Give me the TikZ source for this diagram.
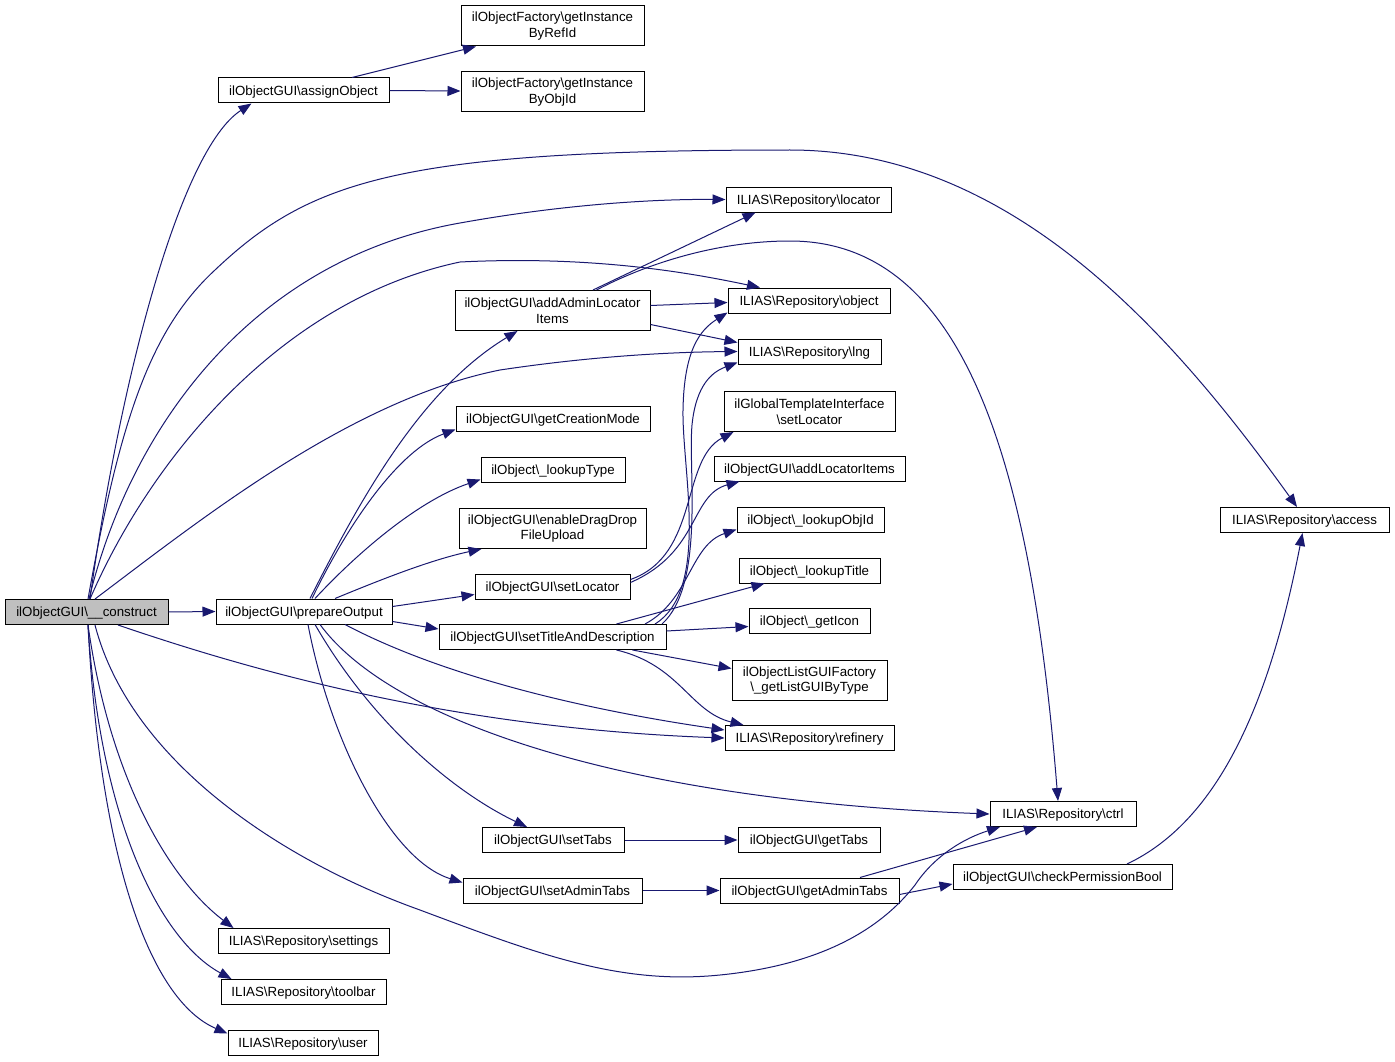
\documentclass[tikz,border=0pt]{standalone}
\usepackage{fontspec}
\setmainfont{Liberation Sans}
\usetikzlibrary{arrows.meta}
\definecolor{mblue}{HTML}{191970}
\definecolor{cgray}{HTML}{BFBFBF}
\tikzset{
  boxbase/.style={draw=black, line width=1pt, fill=white, inner sep=0pt,
    font=\fontsize{13.3}{15.5}\selectfont, align=center},
  box/.style={boxbase, minimum height=25pt, text height=9.4pt, text depth=0pt},
  box2/.style={boxbase, minimum height=40pt},
  edge/.style={draw=mblue, line width=1pt, -{Triangle[length=13pt,width=10pt]}}
}
\begin{document}
\begin{tikzpicture}[x=1pt,y=-1pt]
\useasboundingbox[fill=white] (0,0) rectangle (1395,1062);
% nodes
\node[box, fill=cgray, minimum width=163pt] (construct) at (86.5,612) {ilObjectGUI\textbackslash\_\_construct};
\node[box, minimum width=171pt] (assign) at (303.5,90.5) {ilObjectGUI\textbackslash assignObject};
\node[box2, minimum width=183pt] (refid) at (552.5,26) {ilObjectFactory\textbackslash getInstance\\ByRefId};
\node[box2, minimum width=183pt] (objid) at (552.5,92) {ilObjectFactory\textbackslash getInstance\\ByObjId};
\node[box, minimum width=169pt] (access) at (1304.5,520) {ILIAS\textbackslash Repository\textbackslash access};
\node[box, minimum width=165pt] (locator) at (808.5,199.5) {ILIAS\textbackslash Repository\textbackslash locator};
\node[box2, minimum width=195pt] (addadmin) at (552.5,310.5) {ilObjectGUI\textbackslash addAdminLocator\\Items};
\node[box, minimum width=162pt] (object) at (809,300.5) {ILIAS\textbackslash Repository\textbackslash object};
\node[box, minimum width=143pt] (lng) at (809.5,351.5) {ILIAS\textbackslash Repository\textbackslash lng};
\node[box, minimum width=194pt] (creation) at (553,418.5) {ilObjectGUI\textbackslash getCreationMode};
\node[box2, minimum width=171pt] (tplloc) at (809.5,411.5) {ilGlobalTemplateInterface\\\textbackslash setLocator};
\node[box, minimum width=144pt] (ltype) at (553,469.5) {ilObject\textbackslash\_lookupType};
\node[box, minimum width=191pt] (addloc) at (809.5,468.5) {ilObjectGUI\textbackslash addLocatorItems};
\node[box2, minimum width=187pt] (drag) at (552.5,528.5) {ilObjectGUI\textbackslash enableDragDrop\\FileUpload};
\node[box, minimum width=147pt] (lobjid) at (810.5,519.5) {ilObject\textbackslash\_lookupObjId};
\node[box, minimum width=155pt] (setloc) at (552.5,586.5) {ilObjectGUI\textbackslash setLocator};
\node[box, minimum width=141pt] (ltitle) at (809.5,570.5) {ilObject\textbackslash\_lookupTitle};
\node[box, minimum width=176pt] (prep) at (304,611.5) {ilObjectGUI\textbackslash prepareOutput};
\node[box, minimum width=227pt] (settitle) at (552.5,637) {ilObjectGUI\textbackslash setTitleAndDescription};
\node[box, minimum width=121pt] (icon) at (809.5,620.5) {ilObject\textbackslash\_getIcon};
\node[box2, minimum width=155pt] (listgui) at (809.5,680.5) {ilObjectListGUIFactory\\\textbackslash\_getListGUIByType};
\node[box, minimum width=169pt] (refinery) at (809.5,738) {ILIAS\textbackslash Repository\textbackslash refinery};
\node[box, minimum width=146pt] (ctrl) at (1063,814) {ILIAS\textbackslash Repository\textbackslash ctrl};
\node[box, minimum width=142pt] (settabs) at (553,840) {ilObjectGUI\textbackslash setTabs};
\node[box, minimum width=142pt] (gettabs) at (809,840) {ilObjectGUI\textbackslash getTabs};
\node[box, minimum width=179pt] (setadmin) at (552.5,890.5) {ilObjectGUI\textbackslash setAdminTabs};
\node[box, minimum width=179pt] (getadmin) at (809.5,890.5) {ilObjectGUI\textbackslash getAdminTabs};
\node[box, minimum width=219pt] (checkperm) at (1062.5,877) {ilObjectGUI\textbackslash checkPermissionBool};
\node[box, minimum width=171pt] (settings) at (303.5,941) {ILIAS\textbackslash Repository\textbackslash settings};
\node[box, minimum width=165pt] (toolbar) at (303.5,992) {ILIAS\textbackslash Repository\textbackslash toolbar};
\node[box, minimum width=150pt] (user) at (303,1042.5) {ILIAS\textbackslash Repository\textbackslash user};

% edges from construct
\draw[edge] ([xshift=3.5pt]construct.north) .. controls (120,380) and (180,150) .. ([xshift=-52pt]assign.south);
\draw[edge] (construct.east) -- (prep.west);
\draw[edge] ([xshift=1.5pt]construct.north) .. controls (120,420) and (150,330) .. (215,270)
   .. controls (310,180) and (400,150) .. (790,150) .. controls (1010,150) and (1170,330) .. ([xshift=-7.5pt]access.north);
\draw[edge] ([xshift=2.5pt]construct.north) .. controls (130,430) and (250,260) .. (460,223)
   .. controls (560,205) and (650,199) .. (locator.west);
\draw[edge] ([xshift=3.5pt]construct.north) .. controls (150,460) and (280,300) .. (460,262)
   .. controls (600,255) and (700,275) .. ([xshift=-49pt]object.north);
\draw[edge] ([xshift=8.5pt]construct.north) .. controls (200,520) and (350,400) .. (500,370)
   .. controls (600,355) and (680,352) .. (lng.west);
\draw[edge] ([xshift=31.5pt]construct.south) .. controls (250,670) and (450,728) .. (refinery.west);
\draw[edge] ([xshift=8.5pt]construct.south) .. controls (130,760) and (280,860) .. (420,910)
   .. controls (540,955) and (620,985) .. (720,975) .. controls (820,965) and (880,930) .. (915,885)
   .. controls (935,855) and (965,838) .. ([xshift=-63pt]ctrl.south);
\draw[edge] ([xshift=1.5pt]construct.south) .. controls (110,780) and (170,880) .. ([xshift=-70pt]settings.north);
\draw[edge] ([xshift=1.5pt]construct.south) .. controls (100,820) and (160,940) .. ([xshift=-72pt]toolbar.north);
\draw[edge] ([xshift=1.5pt]construct.south) .. controls (100,860) and (150,1000) .. ([yshift=9pt]user.west);

% assignObject
\draw[edge] ([xshift=48.5pt]assign.north) -- ([xshift=-76.5pt]refid.south);
\draw[edge] (assign.east) -- ([yshift=1pt]objid.west);

% prepareOutput
\draw[edge] ([xshift=6pt]prep.north) .. controls (360,500) and (420,390) .. ([xshift=-35pt]addadmin.south);
\draw[edge] ([xshift=8pt]prep.north) .. controls (350,520) and (400,450) .. ([yshift=-11pt]creation.west);
\draw[edge] ([xshift=11pt]prep.north) .. controls (360,550) and (420,500) .. ([yshift=-10pt]ltype.west);
\draw[edge] ([xshift=31pt]prep.north) .. controls (380,580) and (430,560) .. ([xshift=-71pt]drag.south);
\draw[edge] ([yshift=5pt]prep.east) -- ([yshift=-8pt]setloc.west);
\draw[edge] ([yshift=-10pt]prep.east) -- ([yshift=8pt]settitle.west);
\draw[edge] ([xshift=41pt]prep.south) .. controls (450,680) and (600,712) .. ([yshift=8pt]refinery.west);
\draw[edge] ([xshift=16pt]prep.south) .. controls (390,720) and (620,800) .. (ctrl.west);
\draw[edge] ([xshift=11pt]prep.south) .. controls (370,720) and (450,790) .. ([xshift=-26pt]settabs.north);
\draw[edge] ([xshift=4pt]prep.south) .. controls (330,740) and (390,860) .. ([yshift=8pt]setadmin.west);

% addAdminLocatorItems
\draw[edge] ([xshift=40.5pt]addadmin.north) -- ([xshift=-53pt]locator.south);
\draw[edge] ([yshift=5pt]addadmin.east) -- ([yshift=-2pt]object.west);
\draw[edge] ([yshift=-14pt]addadmin.east) -- ([yshift=9pt]lng.west);
\draw[edge] ([xshift=44pt]addadmin.north) .. controls (650,262) and (720,241) .. (790,241)
   .. controls (960,241) and (1030,450) .. ([xshift=-5pt]ctrl.north);

% setLocator
\draw[edge] ([yshift=7pt]setloc.east) .. controls (700,555) and (680,460) .. ([xshift=-76pt]tplloc.south);
\draw[edge] ([yshift=4pt]setloc.east) .. controls (700,552) and (690,495) .. ([xshift=-70pt]addloc.south);

% setTitleAndDescription
\draw[edge] ([xshift=102.5pt]settitle.north) .. controls (710,590) and (682,470) .. (683,410)
   .. controls (684,350) and (700,330) .. ([yshift=-12pt]object.west);
\draw[edge] ([xshift=109.5pt]settitle.north) .. controls (705,585) and (688,470) .. (692,425)
   .. controls (696,385) and (712,372) .. ([yshift=-11pt]lng.west);
\draw[edge] ([xshift=92.5pt]settitle.north) .. controls (690,600) and (690,545) .. ([yshift=-10pt]lobjid.west);
\draw[edge] ([xshift=64pt]settitle.north) -- ([xshift=-45pt]ltitle.south);
\draw[edge] ([yshift=6pt]settitle.east) -- ([yshift=-6pt]icon.west);
\draw[edge] ([xshift=80pt]settitle.south) -- ([yshift=12pt]listgui.west);
\draw[edge] ([xshift=64pt]settitle.south) .. controls (680,665) and (690,712) .. ([xshift=-66pt]refinery.north);

% tabs
\draw[edge] (settabs.east) -- (gettabs.west);
\draw[edge] (setadmin.east) -- (getadmin.west);
\draw[edge] ([xshift=50.5pt]getadmin.north) -- ([xshift=-26pt]ctrl.south);
\draw[edge] ([yshift=-4pt]getadmin.east) -- ([yshift=-7pt]checkperm.west);
\draw[edge] ([xshift=64.5pt]checkperm.north) .. controls (1220,820) and (1270,700) .. ([xshift=-2pt]access.south);
\end{tikzpicture}
\end{document}
